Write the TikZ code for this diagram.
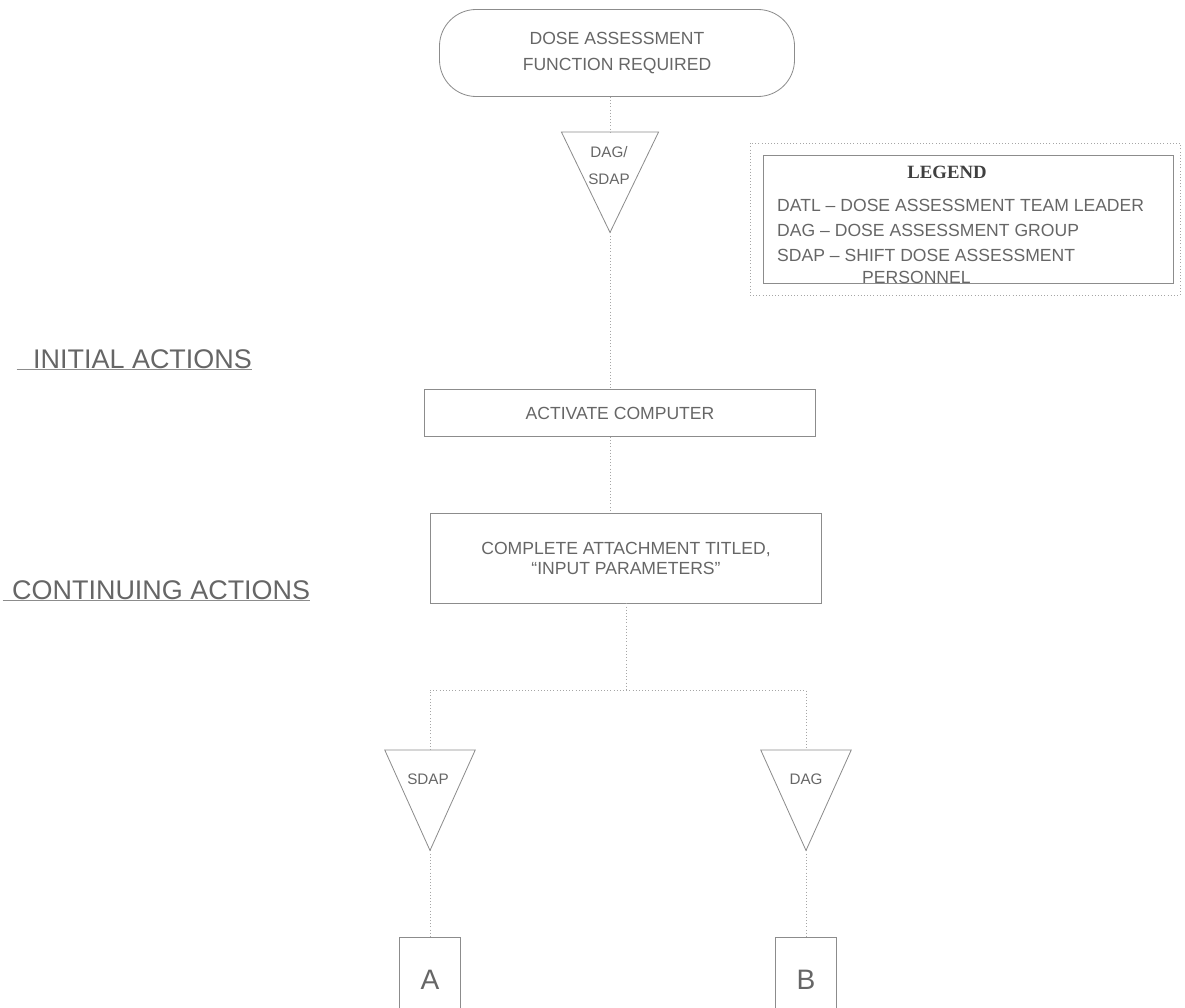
\documentclass[tikz,border=0pt]{standalone}
\usepackage{fontspec}
\setmainfont{Liberation Sans}
\newfontfamily\legendserif{Liberation Serif}
\usetikzlibrary{positioning,calc}

\begin{document}
\begin{tikzpicture}[
x=0.03cm,
y=-0.03cm,
every node/.style={font=\fontsize{15}{23}\selectfont,text=black!60},
shp/.style={draw=black!45,line width=0.7pt},
link/.style={draw=black!35,dotted,line width=0.7pt},
termbox/.style={shp,rectangle,rounded corners=1.1cm,align=center,minimum width=10.65cm,minimum height=2.61cm},
procbox/.style={shp,rectangle,align=center,minimum width=11.73cm},
tribox/.style={rectangle,minimum width=2.7cm,minimum height=3.0cm,inner sep=0pt,anchor=north},
tritext/.style={font=\fontsize{13}{23}\selectfont,align=center,inner sep=0pt},
connbox/.style={shp,rectangle,minimum width=1.83cm,minimum height=2.55cm,anchor=north,font=\fontsize{24}{28}\selectfont},
sechead/.style={font=\fontsize{23}{26}\selectfont,anchor=base west,inner sep=0pt},
secline/.style={draw=black!45,line width=0.8pt},
legtext/.style={font=\fontsize{15}{16}\selectfont,anchor=west,inner sep=0pt},
leghead/.style={font=\legendserif\bfseries\fontsize{16}{18}\selectfont,text=black!75},
legbox/.style={shp,rectangle,minimum width=12.3cm,minimum height=3.84cm},
legframe/.style={draw=black!35,dotted,line width=0.7pt,rectangle,minimum width=12.9cm,minimum height=4.56cm}
]
\useasboundingbox (0,0) rectangle (1185,1007);

% main column
\node[termbox] (start) at (617,53) {DOSE ASSESSMENT\\FUNCTION REQUIRED};
\node[tribox,minimum width=2.9cm] (t1) at (610,132) {};
\draw[shp] (t1.north west) -- (t1.north east) -- (t1.south) -- cycle;
\node[tritext] (t1lbl) at (609,166) {DAG/\\SDAP};
\node[procbox,minimum height=1.41cm] (act) at (620,413) {ACTIVATE COMPUTER};
\node[procbox,minimum height=2.7cm] (comp) at (626,558) {COMPLETE ATTACHMENT TITLED,\\[-6pt]``INPUT PARAMETERS''};

% branches
\coordinate (br) at (0,690);
\node[tribox] (t2) at (430,750) {};
\draw[shp] (t2.north west) -- (t2.north east) -- (t2.south) -- cycle;
\node[tritext] (t2lbl) at (428,779) {SDAP};
\node[tribox] (t3) at (806,750) {};
\draw[shp] (t3.north west) -- (t3.north east) -- (t3.south) -- cycle;
\node[tritext] (t3lbl) at (806,779) {DAG};
\node[connbox] (ca) at (430,937) {A};
\node[connbox] (cb) at (806,937) {B};

\draw[link] (start.south -| t1.north) -- (t1.north);
\draw[link] (t1.south) -- (t1.south |- act.north);
\draw[link] (t1.south |- act.south) -- (t1.south |- comp.north);
\draw[link] (comp.south) -- (comp.south |- br);
\draw[link] (t2.north) |- (t3.north |- br) -- (t3.north);
\draw[link] (t2.south) -- (ca.north);
\draw[link] (t3.south) -- (cb.north);

% section headings
\node[sechead] (sec1) at (33,368) {INITIAL ACTIONS};
\draw[secline] ([xshift=-14pt,yshift=-1.5pt]sec1.base west) -- ([yshift=-1.5pt]sec1.base east);
\node[sechead] (sec2) at (12,599) {CONTINUING ACTIONS};
\draw[secline] ([xshift=-8pt,yshift=-1.5pt]sec2.base west) -- ([yshift=-1.5pt]sec2.base east);

% legend
\node[legframe] (legout) at (965,219) {};
\node[legbox] (legend) at (968,219) {};
\node[leghead] (leghd) at (947,172) {LEGEND};
\node[legtext] (leg1) at (777,205) {DATL -- DOSE ASSESSMENT TEAM LEADER};
\node[legtext] (leg2) at (777,230) {DAG -- DOSE ASSESSMENT GROUP};
\node[legtext] (leg3) at (777,255) {SDAP -- SHIFT DOSE ASSESSMENT};
\node[legtext] (leg4) at (862,277) {PERSONNEL};
\end{tikzpicture}
\end{document}
